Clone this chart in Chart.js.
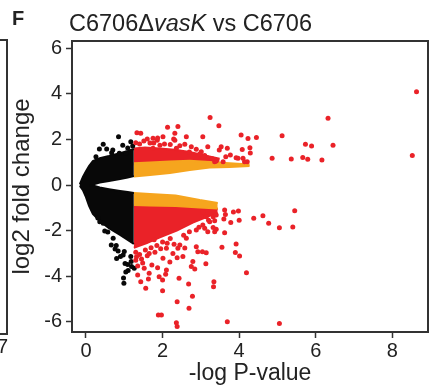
<!DOCTYPE html>
<html><head><meta charset="utf-8">
<script src="https://cdn.jsdelivr.net/npm/chart.js@4.4.1/dist/chart.umd.min.js"></script>
<style>
html,body{margin:0;padding:0;background:#fff;}
#wrap{position:relative;width:432px;height:387px;overflow:hidden;font-family:"Liberation Sans",Arial,sans-serif;}
#c{position:absolute;left:0;top:0;}
.lbl{position:absolute;white-space:nowrap;color:#222;line-height:1;}
#frag{position:absolute;left:-2px;top:39px;width:8px;height:292px;border:2px solid #333;border-left:none;}
</style></head><body>
<div id="wrap">
<canvas id="c" width="432" height="387"></canvas>
<div id="frag"></div>
<div class="lbl" style="left:12px;top:8px;font-weight:bold;font-size:20px;">F</div>
<div class="lbl" style="left:69px;top:12px;font-size:23.5px;">C6706Δ<i>vasK</i> vs C6706</div>
<div class="lbl" style="left:-3px;top:336px;font-size:20px;">7</div>
</div>
<script>
const xTitle = '-log P-value';
const yTitle = 'log2 fold change';
const xTickValues = [0, 2, 4, 6, 8];
const yTickValues = [-6, -4, -2, 0, 2, 4, 6];

// dense regions (envelopes)
const blackBandX = [-0.16, -0.08, 0, 0.08, 0.18, 0.36, 0.60, 0.89, 1.09, 1.25];
const blackUpTop = [0.04, 0.35, 0.61, 0.83, 1.05, 1.18, 1.27, 1.40, 1.49, 1.58];
const blackUpBot = [0, 0, 0, 0, 0.02, 0.11, 0.18, 0.26, 0.33, 0.39];
const blackLoTop = [0, 0, 0, 0, -0.02, -0.11, -0.18, -0.26, -0.31, -0.35];
const blackLoBot = [-0.04, -0.22, -0.53, -0.92, -1.27, -1.58, -1.89, -2.19, -2.41, -2.59];

const orangeUpX = [1.25, 1.67, 2.19, 2.71, 3.23, 3.75, 4.27];
const orangeUpTop = [0.96, 0.99, 1.03, 1.07, 1.01, 0.96, 0.90];
const orangeUpBot = [0.37, 0.44, 0.53, 0.66, 0.77, 0.79, 0.83];

const orangeLoX = [1.25, 1.67, 2.34, 2.97, 3.44];
const orangeLoTop = [-0.35, -0.39, -0.46, -0.66, -0.79];
const orangeLoBot = [-0.88, -0.90, -0.92, -0.99, -1.03];

const redUpX = [1.25, 1.54, 1.93, 2.32, 2.71, 3.10, 3.49];
const redUpTop = [1.60, 1.65, 1.60, 1.55, 1.45, 1.30, 1.15];
const redUpBot = [0.90, 0.92, 0.95, 0.97, 1.00, 0.98, 0.95];

const redLoX = [1.25, 1.59, 1.93, 2.37, 2.79, 3.23, 3.44];
const redLoTop = [-0.95, -0.95, -0.95, -0.95, -0.95, -0.98, -1.05];
const redLoBot = [-2.75, -2.55, -2.30, -2.00, -1.65, -1.35, -1.22];

// individual points
const blackX = [0.85,0.45,0.96,1.17,0.54,0.35,0.67,0.26,0.87,1.04,0.70,1.09,1.22,
  0.36,0.45,0.57,0.71,0.66,0.79,0.76,0.84,0.90,0.80,0.97,1.00,1.02,1.09,1.18,1.17,1.26,1.10,1.04,0.98,0.99,1.19,0.49,0.31];
const blackY = [2.12,1.79,1.75,1.90,1.58,1.58,1.42,1.24,1.39,1.39,1.54,1.62,1.71,
  -1.61,-1.68,-2.06,-2.34,-2.63,-2.65,-2.81,-2.89,-3.14,-3.23,-3.07,-2.92,-3.44,-3.49,-3.36,-3.14,-3.65,-3.75,-3.82,-4.08,-4.31,-3.58,-2.02,-1.45];

const redX = [1.33,1.43,1.60,1.75,1.86,2.01,2.13,2.29,2.40,2.32,2.62,3.05,3.24,3.47,4.05,4.23,4.45,4.28,4.29,4.08,
  3.69,3.53,3.48,3.77,3.65,3.92,4.10,4.21,3.17,3.40,3.58,4.86,5.12,5.36,5.66,5.79,6.16,5.73,5.89,6.45,
  6.32,8.52,8.63,2.58,2.75,2.88,3.01,3.04,1.93,1.75,2.36,3.18,2.97,1.77,1.87,2.32,3.97,4.14,3.36,1.51,1.67,
  1.30,1.40,2.05,2.20,2.45,2.70,3.10,3.30,
  3.62,3.64,3.85,3.98,3.60,3.78,4.00,4.38,4.62,4.77,5.05,5.40,5.45,3.62,3.40,3.32,3.55,3.92,3.90,4.01,
  4.19,3.34,3.33,3.69,5.05,3.14,3.13,3.04,3.05,3.14,3.32,3.40,3.23,3.36,3.10,3.18,3.36,2.88,2.92,2.62,
  2.88,3.05,2.40,2.10,2.27,2.53,2.01,2.38,2.10,2.08,2.00,2.00,2.43,2.68,2.79,2.75,2.84,2.78,2.38,2.69,
  1.97,2.36,2.38,1.35,1.43,1.56,1.63,1.65,1.52,1.87,1.91,1.89,1.35,1.72,2.19,2.58,2.45,
  1.30,1.45,1.60,1.80,1.95,1.48,
  1.30,1.40,1.55,1.70,1.65,1.85,2.00,2.20,2.30,2.55,2.70,2.95,3.20,1.32,1.78,2.12];
const redY = [2.29,2.27,2.02,2.05,1.97,2.12,2.53,2.02,2.57,2.27,2.12,2.12,2.96,2.60,2.19,2.04,2.09,1.64,1.40,1.56,
  1.61,1.68,1.54,1.32,1.24,1.20,1.17,1.02,1.20,1.05,1.02,1.17,2.16,1.14,1.21,1.13,1.10,1.79,1.71,1.75,
  2.93,1.29,4.09,1.79,1.68,1.57,1.46,1.24,1.75,1.61,1.61,1.68,1.36,1.84,2.06,1.97,1.17,1.02,1.02,1.93,1.84,
  1.85,1.80,1.80,1.78,1.72,1.45,1.30,1.15,
  -1.10,-1.29,-1.18,-1.14,-1.49,-1.64,-1.55,-1.46,-1.35,-1.68,-1.87,-1.84,-1.13,-2.09,-1.94,-1.86,-2.73,-2.59,-2.96,-3.11,
  -3.85,-4.24,-4.46,-6.00,-6.08,-2.97,-3.46,-2.93,-1.17,-1.39,-1.39,-1.32,-1.61,-1.57,-1.90,-2.05,-2.05,-2.71,-2.93,-2.34,
  -1.97,-1.75,-2.78,-2.78,-3.00,-3.14,-3.21,-3.19,-3.73,-3.92,-4.17,-4.64,-4.09,-4.34,-3.36,-3.58,-3.68,-4.88,-5.12,-5.41,
  -5.70,-6.04,-6.21,-3.95,-4.24,-4.53,-4.12,-3.87,-3.65,-3.63,-4.02,-5.70,-3.55,-3.51,-3.38,-2.76,-2.63,
  -3.30,-3.25,-3.10,-2.95,-2.80,-3.42,
  -2.95,-3.05,-2.85,-2.75,-3.00,-2.65,-2.50,-2.35,-2.60,-2.20,-2.05,-1.85,-1.55,-3.15,-2.40,-2.55];

const BLACK = '#080808', ORANGE = '#f6a51e', RED = '#ea2228';

function pts(xs, ys) { return xs.map((x, i) => ({x: x, y: ys[i]})); }
function band(xs, top, bot, color, order) {
  return [
    {type: 'line', data: pts(xs, top), borderColor: color, backgroundColor: color, borderWidth: 2,
     pointRadius: 0, tension: 0, fill: '+1', order: order},
    {type: 'line', data: pts(xs, bot), borderColor: color, backgroundColor: color, borderWidth: 2,
     pointRadius: 0, tension: 0, fill: false, order: order}
  ];
}
function dots(xs, ys, color, order) {
  return {type: 'scatter', data: pts(xs, ys), pointRadius: 2.5, pointBackgroundColor: color,
    pointBorderWidth: 0, borderWidth: 0, showLine: false, order: order};
}

const datasets = [].concat(
  band(redUpX, redUpTop, redUpBot, RED, 8),
  band(redLoX, redLoTop, redLoBot, RED, 8),
  band(orangeUpX, orangeUpTop, orangeUpBot, ORANGE, 7),
  band(orangeLoX, orangeLoTop, orangeLoBot, ORANGE, 7),
  band(blackBandX, blackUpTop, blackUpBot, BLACK, 6),
  band(blackBandX, blackLoTop, blackLoBot, BLACK, 6),
  [dots(blackX, blackY, BLACK, 3), dots(redX, redY, RED, 2)]
);

const boxPlugin = {
  id: 'box',
  afterDraw(chart) {
    const a = chart.chartArea, ctx = chart.ctx;
    ctx.save();
    ctx.strokeStyle = '#333';
    ctx.lineWidth = 2;
    ctx.strokeRect(a.left, a.top, a.right - a.left, a.bottom - a.top);
    ctx.restore();
  }
};

Chart.defaults.font.family = '"Liberation Sans", Arial, sans-serif';
new Chart(document.getElementById('c'), {
  type: 'scatter',
  data: {datasets: datasets},
  options: {
    responsive: false, animation: false, events: [],
    layout: {padding: {top: 41, right: 3, left: 0, bottom: 0}},
    plugins: {legend: {display: false}, tooltip: {enabled: false}},
    scales: {
      x: {
        type: 'linear', min: -0.365, max: 8.93,
        afterBuildTicks: s => { s.ticks = xTickValues.map(v => ({value: v})); },
        afterFit: s => { s.height = 55; },
        grid: {drawOnChartArea: false, drawTicks: true, tickLength: 6, tickWidth: 1.5, tickColor: '#333'},
        border: {display: false},
        ticks: {font: {size: 20}, color: '#222', padding: 1, maxRotation: 0, callback: v => String(v)},
        title: {display: true, text: xTitle, font: {size: 23}, color: '#222', padding: {top: 0, bottom: 0}}
      },
      y: {
        type: 'linear', min: -6.45, max: 6.32,
        afterBuildTicks: s => { s.ticks = yTickValues.map(v => ({value: v})); },
        afterFit: s => { s.width = 72; },
        grid: {drawOnChartArea: false, drawTicks: true, tickLength: 6, tickWidth: 1.5, tickColor: '#333'},
        border: {display: false},
        ticks: {font: {size: 20}, color: '#222', padding: 4, callback: v => String(v)},
        title: {display: true, text: yTitle, font: {size: 24}, color: '#222', padding: {top: 8, bottom: 0}}
      }
    }
  },
  plugins: [boxPlugin]
});
</script>
</body></html>
